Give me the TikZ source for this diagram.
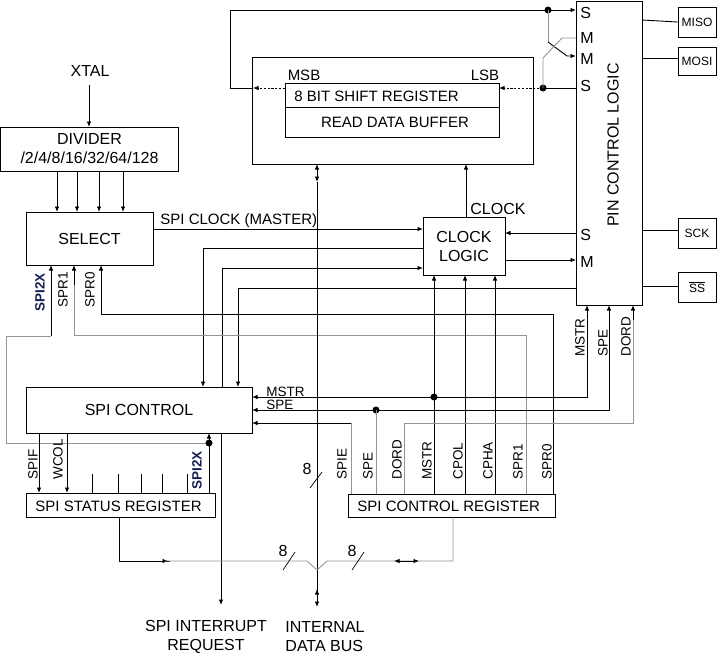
\documentclass[tikz,border=0pt]{standalone}
\usepackage{fontspec}
\setmainfont{Liberation Sans}
\usetikzlibrary{arrows.meta}
\newcommand\fL{\fontsize{16}{19}\selectfont}
\newcommand\fM{\fontsize{15}{18}\selectfont}
\newcommand\fS{\fontsize{13.5}{16}\selectfont}
\newcommand\fP{\fontsize{12}{14}\selectfont}
\definecolor{lg}{gray}{0.58}
\definecolor{navy}{RGB}{20,30,80}
\begin{document}
\begin{tikzpicture}[x=1pt,y=-1pt,line width=0.9pt,
  >={Latex[length=5.5pt,width=4.5pt]},
  box/.style={draw,inner sep=0pt,anchor=center},
  txt/.style={inner sep=0pt,font=\fL},
  vlab/.style={inner sep=0pt,rotate=90,anchor=west,font=\fS},
  dotline/.style={dash pattern=on 2.2pt off 1.6pt},
  jdot/.style={circle,fill,inner sep=0pt,minimum size=7pt}]
\useasboundingbox (0,0) rectangle (717,654);

% ---------- boxes
\node[box,minimum width=178pt,minimum height=44pt,align=center,font=\fL] (div) at (89.5,149)
  {DIVIDER\\/2/4/8/16/32/64/128};
\node[box,minimum width=127pt,minimum height=53pt,font=\fL] (sel) at (89.5,238.5) {SELECT};
\node[box,minimum width=281pt,minimum height=107pt] (outer) at (392.5,110.5) {};
\node[box,minimum width=214pt,minimum height=54pt] (shift) at (392,110) {};
\draw (285,107) -- (499,107);
\node[txt,font=\fM,anchor=west] (sr) at (294,96) {8 BIT SHIFT REGISTER};
\node[txt,font=\fM] (rdb) at (395,122) {READ DATA BUFFER};
\node[txt,font=\fM] (msb) at (304,75) {MSB};
\node[txt,font=\fM] (lsb) at (485,75) {LSB};
\node[box,minimum width=82pt,minimum height=58pt,align=center,font=\fL] (clk) at (464,246) {CLOCK\\LOGIC};
\node[txt] (clklab) at (498,209) {CLOCK};
\node[box,minimum width=66pt,minimum height=304pt] (pin) at (609,153) {};
\node[txt,rotate=90] (pinlab) at (613,145) {PIN CONTROL LOGIC};
\node[box,minimum width=38pt,minimum height=30pt,font=\fP] (miso) at (697,22) {MISO};
\node[box,minimum width=38pt,minimum height=28pt,font=\fP] (mosi) at (697,61) {MOSI};
\node[box,minimum width=38pt,minimum height=30pt,font=\fP] (sck) at (697,233) {SCK};
\node[box,minimum width=38pt,minimum height=30pt,font=\fP] (ss) at (697,287) {$\overline{\mbox{SS}}$};
\node[box,minimum width=226pt,minimum height=46pt,font=\fL] (ctl) at (139,410) {SPI CONTROL};
\node[box,minimum width=189pt,minimum height=24pt] (stat) at (120.5,505) {};
\node[txt,font=\fM,anchor=west] (statlab) at (35,506) {SPI STATUS REGISTER};
\node[box,minimum width=207pt,minimum height=23pt] (creg) at (451.5,505.5) {};
\node[txt,font=\fM,anchor=west] (creglab) at (357,506) {SPI CONTROL REGISTER};

% pin labels
\node[txt,anchor=west] (ps1) at (580,13) {S};
\node[txt,anchor=west] (pm1) at (580,38) {M};
\node[txt,anchor=west] (pm2) at (580,59) {M};
\node[txt,anchor=west] (ps2) at (580,86) {S};
\node[txt,anchor=west] (ps3) at (580,235) {S};
\node[txt,anchor=west] (pm3) at (580,262) {M};

% ---------- XTAL / divider
\node[txt] (xtal) at (90,71) {XTAL};
\draw[->] (89,85) -- (89,127);
\foreach \x in {57,77,99,123} \draw[->] (\x,171) -- (\x,212);

% ---------- select / clock
\draw[->] (153,229) -- (423,229);
\node[txt,font=\fM,anchor=west] (spiclk) at (160,221) {SPI CLOCK (MASTER)};
\draw[->] (423,248) -- (203,248) -- (203,387);
\draw[->] (222,387) -- (222,268) -- (423,268);
\draw[->] (576,288) -- (238,288) -- (238,387);
\draw[->] (553,494) -- (553,314) -- (101,314) -- (101,265);
\draw[lg] (526,494) -- (526,335) -- (74,335) -- (74,285);
\draw[->] (74,285) -- (74,265);
\draw[lg] (209,443) -- (6,443) -- (6,336) -- (51,336);
\draw[->] (51,336) -- (51,265);
\node[vlab,font=\fS\bfseries,text=navy] (s2x) at (40,312) {SPI2X};
\node[vlab] (sr1) at (63,308) {SPR1};
\node[vlab] (sr0) at (90,308) {SPR0};

% clock logic inputs
\draw[->] (434,494) -- (434,275);
\draw[->] (465,494) -- (465,275);
\draw[->] (495,494) -- (495,275);
\draw[->] (466,217) -- (466,164);
\draw[->] (576,233) -- (505,233);
\draw[->] (505,260) -- (576,260);

% MSTR / SPE / DORD / SPIE
\draw[<->] (252,397) -- (587,397) -- (587,305);
\node[jdot] (d1) at (434,397) {};
\draw[<->] (252,410) -- (609,410) -- (609,305);
\node[jdot] (d2) at (376,410) {};
\draw[lg] (376,494) -- (376,410);
\draw[lg] (351,494) -- (351,423);
\draw[->] (351,423) -- (252,423);
\draw[lg] (404,494) -- (404,423) -- (633,423) -- (633,320);
\draw[->] (633,320) -- (633,305);
\node[txt,font=\fS,anchor=west] (lmstr) at (266,392) {MSTR};
\node[txt,font=\fS,anchor=west] (lspe) at (266,405) {SPE};
\node[vlab] (pmstr) at (580,357) {MSTR};
\node[vlab] (pspe) at (603,357) {SPE};
\node[vlab] (pdord) at (626,357) {DORD};

% control register labels
\foreach \x/\t in {342/SPIE,368/SPE,397/DORD,427/MSTR,458/CPOL,488/CPHA,518/SPR1,547/SPR0}
  \node[vlab] at (\x,480) {\t};

% ---------- shift register loop
\draw[->] (253,88) -- (230,88) -- (230,10) -- (576,10);
\draw[dotline,->] (285,88) -- (253,88);
\node[jdot] (d3) at (548,10) {};
\draw[lg] (548,10) -- (548,42);
\draw[->] (548,42) -- (567,56) -- (576,56);
\node[jdot] (d4) at (543,88) {};
\draw (543,88) -- (576,88);
\draw[dotline,->] (543,88) -- (499,88);
\draw[lg] (543,88) -- (543,58) -- (562,38) -- (576,38);

% pins
\draw (642,20) -- (miso.west);
\draw (642,58) -- (678,58);
\draw (642,230) -- (678,230);
\draw (642,286) -- (678,286);

% ---------- SPI control / status
\draw[->] (39,433) -- (39,493);
\draw[->] (67,433) -- (67,493);
\foreach \x in {92,118,141,162,187} \draw (\x,474) -- (\x,493);
\draw[->] (209,493) -- (209,433);
\node[jdot] (d5) at (209,443) {};
\node[vlab] (lspif) at (33,480) {SPIF};
\node[vlab] (lwcol) at (58,480) {WCOL};
\node[vlab,font=\fS\bfseries,text=navy] (ls2x) at (197,490) {SPI2X};
\draw[->] (221,433) -- (221,605);

% ---------- internal data bus
\draw[<->] (317,164) -- (317,182);
\draw (317,182) -- (317,592);
\draw[<->] (317,589) -- (317,607);
\draw (119,517) -- (119,561) -- (170,561);
\draw[->] (130,561) -- (168,561);
\draw[lg] (165,561) -- (307,561) -- (317,570) -- (327,561) -- (453,561) -- (453,517);
\draw[<->] (394,561) -- (419,561);
\draw[line width=0.7pt] (310,488) -- (322,472);
\node[txt] (n1) at (307,469) {8};
\draw[line width=0.7pt] (283,570) -- (295,552);
\node[txt] (n2) at (283,551) {8};
\draw[line width=0.7pt] (352,570) -- (364,552);
\node[txt] (n3) at (352,551) {8};

\node[txt,align=center] (irq) at (206,637) {SPI INTERRUPT\\REQUEST};
\node[txt,align=left,anchor=west] (idb) at (285,637) {INTERNAL\\DATA BUS};
\end{tikzpicture}
\end{document}
